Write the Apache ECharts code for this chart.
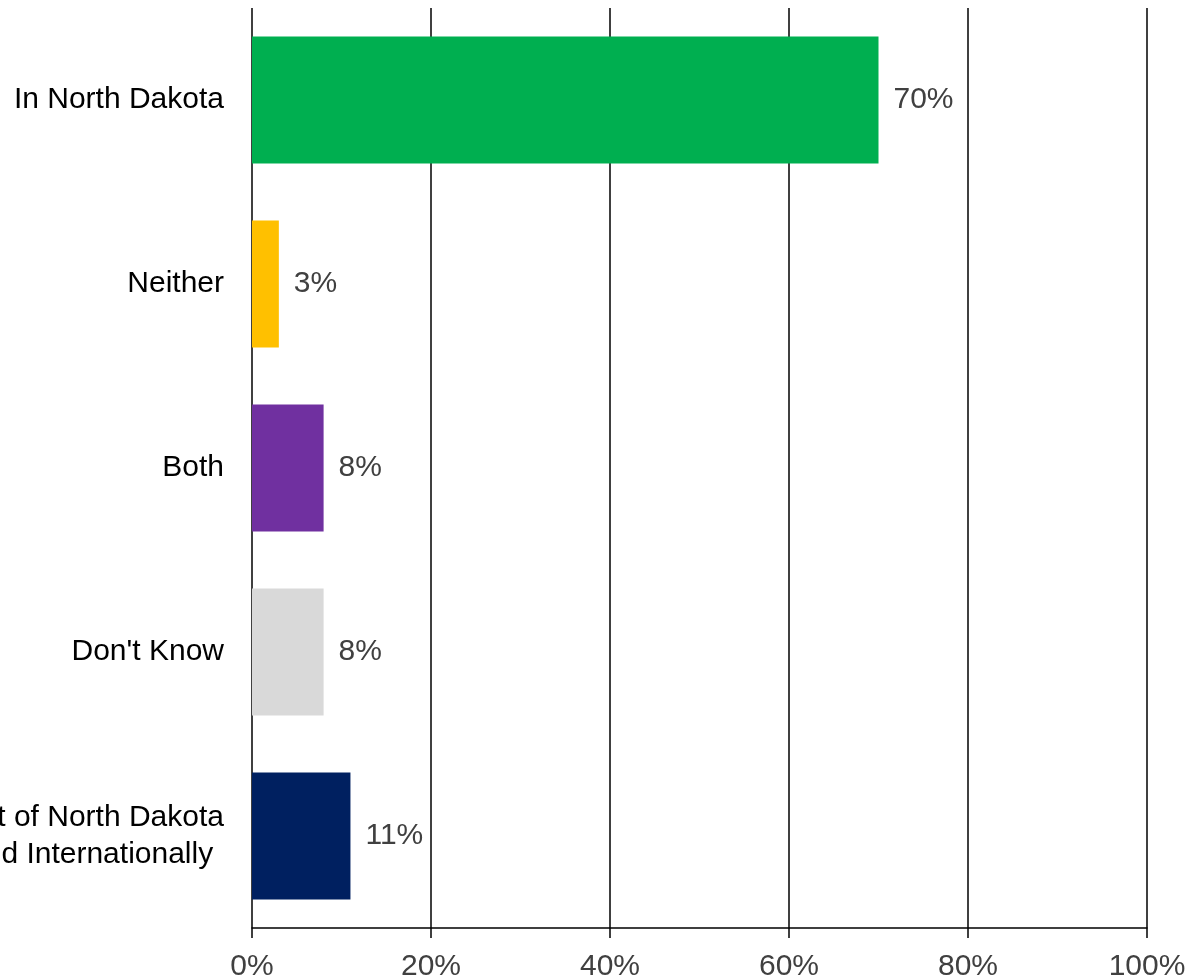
<!DOCTYPE html>
<html><head><meta charset="utf-8">
<script src="https://cdn.jsdelivr.net/npm/echarts@6/dist/echarts.min.js"></script>
<style>html,body{margin:0;padding:0;background:#fff}#c{width:1191px;height:980px}</style>
</head><body><div id="c"></div>
<script>
const categories = ["In North Dakota", "Neither", "Both", "Don't Know", "Out of North Dakota\nand Internationally"];
const values = [70, 3, 8, 8, 11];
const colors = ["#00AF50", "#FFC000", "#7030A0", "#D9D9D9", "#002060"];
const xTicks = [0, 20, 40, 60, 80, 100];

const FONT = 'Liberation Sans, Arial, sans-serif';
const chart = echarts.init(document.getElementById('c'), null, {renderer: 'canvas'});
chart.setOption({
  backgroundColor: '#ffffff',
  animation: false,
  grid: {left: 252, right: 44, top: 8, bottom: 52, containLabel: false, outerBoundsMode: 'none'},
  xAxis: {
    type: 'value', min: 0, max: 100, interval: 20,
    axisLine: {show: true, lineStyle: {color: '#000', width: 1.5}},
    axisTick: {show: true, length: 10, lineStyle: {color: '#000', width: 1.5}},
    splitLine: {show: true, lineStyle: {color: '#000', width: 1.5}},
    axisLabel: {formatter: v => xTicks.includes(v) ? v + '%' : '', color: '#404040', fontSize: 30, margin: 24, fontFamily: FONT}
  },
  yAxis: {
    type: 'category', inverse: true, data: categories,
    axisLine: {show: false}, axisTick: {show: false},
    axisLabel: {
      color: '#000', fontSize: 30, margin: 28, lineHeight: 37, fontFamily: FONT,
      formatter: v => v.includes('\n') ? v.split('\n').map(s => '{c|' + s + '}').join('\n') : v,
      rich: {c: {align: 'center', color: '#000', fontSize: 30, lineHeight: 37, fontFamily: FONT}}
    }
  },
  series: [{
    type: 'bar',
    data: values.map((v, i) => ({value: v, itemStyle: {color: colors[i]}})),
    barCategoryGap: '31%',
    label: {show: true, position: 'right', distance: 15, formatter: p => p.value + '%', color: '#404040', fontSize: 30, fontFamily: FONT}
  }]
});
</script></body></html>
